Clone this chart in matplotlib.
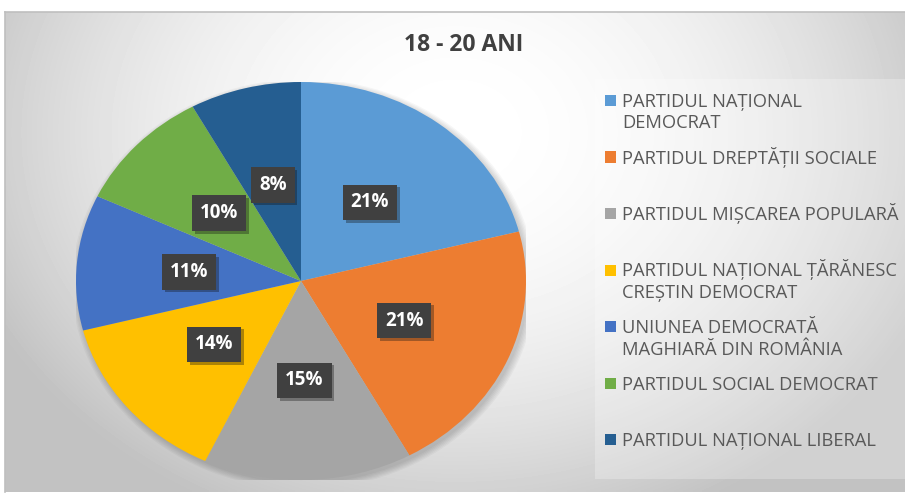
import numpy as np
import matplotlib.pyplot as plt
import matplotlib.patheffects as pe
from matplotlib.patches import Rectangle, Ellipse

# data
parties = [
    'PARTIDUL NAȚIONAL\nDEMOCRAT',
    'PARTIDUL DREPTĂȚII SOCIALE',
    'PARTIDUL MIȘCAREA POPULARĂ',
    'PARTIDUL NAȚIONAL ȚĂRĂNESC\nCREȘTIN DEMOCRAT',
    'UNIUNEA DEMOCRATĂ\nMAGHIARĂ DIN ROMÂNIA',
    'PARTIDUL SOCIAL DEMOCRAT',
    'PARTIDUL NAȚIONAL LIBERAL',
]
shares = [21, 21, 15, 14, 11, 10, 8]
colors = ['#5B9BD5', '#ED7D31', '#A5A5A5', '#FFC000', '#4472C4', '#70AD47', '#255E91']
title = '18 - 20 ANI'

plt.rcParams['font.family'] = ['Open Sans', 'DejaVu Sans']

W, H = 905, 494
fig = plt.figure(figsize=(W / 100, H / 100), dpi=100)

# background: radial grey gradient inside the chart frame
bg = fig.add_axes([5 / W, 2 / H, 900 / W, 480 / H])
xx, yy = np.meshgrid(np.linspace(0, 900, 300), np.linspace(0, 480, 160))
d = ((xx - 450) / 520) ** 2 + ((yy - 120) / 420) ** 2
bg.imshow(np.clip(1 - 0.24 * d, 0.76, 1), cmap='gray', vmin=0, vmax=1,
          extent=(0, 900, 480, 0), aspect='auto', interpolation='bilinear')
bg.set_xlim(0, 900)
bg.set_ylim(480, 0)
bg.set_xticks([])
bg.set_yticks([])
for s in ['right', 'bottom']:
    bg.spines[s].set_visible(False)
for s in ['top', 'left']:
    bg.spines[s].set_color('#bfbfbf')
    bg.spines[s].set_linewidth(1.2)

# legend panel
bg.add_patch(Rectangle((590, 67), 310, 400, facecolor='white', alpha=0.25, lw=0))

# pie (stretched to an ellipse)
ax = fig.add_axes([76 / W, 14 / H, 450 / W, 398 / H])
# soft shadow under the pie
for k in range(6):
    ax.add_patch(Ellipse((0.012, -0.015), 2 + 0.012 * k, 2 + 0.012 * k,
                         facecolor='black', alpha=0.03, lw=0, zorder=0))
wedges, _, autotexts = ax.pie(
    shares, colors=colors, startangle=90, counterclock=False,
    autopct='%.0f%%', pctdistance=0.5, wedgeprops=dict(linewidth=0),
)
ax.set_aspect('auto')
ax.set_xlim(-1, 1)
ax.set_ylim(-1, 1)
for t in autotexts:
    t.set_color('white')
    t.set_fontsize(13.5)
    t.set_fontweight('bold')
    t.set_bbox(dict(boxstyle='square,pad=0.42', facecolor='#404040', edgecolor='none'))
    t.get_bbox_patch().set_path_effects(
        [pe.SimplePatchShadow(offset=(2, -2), alpha=0.35), pe.Normal()])

fig.text(464 / W, 1 - 45 / H, title, ha='center', va='center',
         fontsize=16.5, fontweight='bold', color='#404040')

# legend, drawn entry by entry
for i, (lab, c) in enumerate(zip(parties, colors)):
    base = 107 + i * 56.5
    fig.patches.append(Rectangle((605 / W, 1 - (base - 1) / H), 11 / W, 11 / H,
                                 facecolor=c, edgecolor='none',
                                 transform=fig.transFigure, figure=fig))
    for j, line in enumerate(lab.split('\n')):
        fig.text(622 / W, 1 - (base + 21.5 * j) / H, line, ha='left', va='baseline',
                 fontsize=13.2, color='#595959')

fig.savefig('out.png', dpi=100, facecolor='white')
